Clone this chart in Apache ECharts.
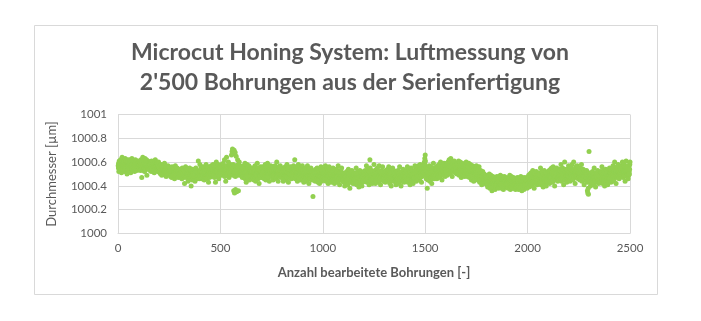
<!DOCTYPE html>
<html>
<head>
<meta charset="utf-8">
<script src="https://cdn.jsdelivr.net/npm/echarts@6/dist/echarts.min.js"></script>
<style>
html,body{margin:0;padding:0;background:#fff;}
#chart{width:701px;height:321px;}
</style>
</head>
<body>
<div id="chart"></div>
<script>
// Title and axis texts
const titleText = "Microcut Honing System: Luftmessung von\n2'500 Bohrungen aus der Serienfertigung";
const xAxisTitle = "Anzahl bearbeitete Bohrungen [-]";
const yAxisTitle = "Durchmesser [µm]";
const xTicks = [0, 500, 1000, 1500, 2000, 2500];
const yTicks = [1000, 1000.2, 1000.4, 1000.6, 1000.8, 1001];
const baseDiameter = 1000; // µm
// Measured diameters: hundredths of a µm above 1000 µm, bores 1-500, 501-1000, ...
const seg1 = [
57,55,59,52,58,61,56,54,60,57,53,59,62,56,58,55,51,57,60,64,58,54,56,59,57,53,61,58,55,57,60,52,56,59,63,57,54,58,56,61,55,59,57,50,58,62,56,54,60,57,
58,56,53,60,57,55,62,58,54,57,59,51,56,60,58,55,57,63,54,58,56,61,57,53,59,56,58,55,60,57,52,58,56,59,62,55,57,54,60,56,58,53,57,61,55,59,56,58,54,57,
56,59,54,58,61,57,55,60,53,58,56,62,57,54,59,47,57,60,55,58,64,56,53,58,57,61,55,59,56,52,58,63,57,55,60,54,58,56,62,57,49,59,56,58,55,61,57,54,59,56,
55,58,54,57,60,56,53,58,55,59,57,52,56,61,55,58,54,57,59,56,53,57,60,55,58,56,51,57,59,54,56,62,55,57,53,58,56,60,54,57,55,59,52,56,58,55,57,60,54,56,
54,52,56,51,55,53,57,50,54,52,58,53,55,49,54,56,52,53,57,51,55,54,50,56,53,52,59,54,51,55,53,57,52,54,48,55,53,56,51,54,52,55,53,57,50,54,53,51,56,52,
50,53,49,52,55,51,48,53,50,54,52,47,51,56,50,52,49,53,51,55,48,52,50,54,51,46,53,50,52,57,49,51,54,50,52,48,53,51,55,49,52,50,53,47,51,54,50,52,49,51,
49,52,48,51,54,50,47,52,49,53,51,46,50,55,49,51,48,52,50,54,47,51,49,53,42,50,52,48,51,56,49,50,53,47,51,49,52,50,54,48,51,44,50,53,49,51,47,52,50,55,
48,51,47,50,53,49,40,51,48,52,50,45,49,54,48,50,47,51,49,53,46,50,48,52,49,44,51,47,50,55,48,49,52,46,50,48,51,49,53,47,50,61,49,52,48,50,46,51,49,58,
49,52,48,51,55,50,46,52,49,54,51,47,50,56,49,52,48,53,50,55,45,51,49,53,50,47,52,48,51,58,49,50,54,46,51,49,52,50,56,48,51,43,50,53,49,52,47,51,50,54,
51,54,50,53,57,52,48,54,51,56,53,49,52,58,51,54,50,55,52,57,47,53,51,55,52,43,54,50,53,60,51,52,56,48,53,51,54,52,58,50,53,46,52,55,51,54,49,53,52,56
];
const seg2 = [
52,55,51,54,58,53,49,55,52,57,54,50,53,59,52,55,51,56,53,62,48,54,52,56,53,44,55,51,54,64,52,53,57,49,54,52,55,53,60,51,54,47,53,56,52,55,50,54,53,58,
54,57,52,66,55,50,69,56,71,53,49,67,58,52,36,55,70,51,34,57,53,68,48,37,56,52,65,54,35,50,57,53,49,62,55,51,58,36,53,56,50,60,54,52,57,49,55,53,51,56,
50,53,49,52,56,51,47,53,50,55,52,48,51,57,50,53,49,54,51,59,46,52,50,54,51,43,53,49,52,58,50,51,55,47,52,50,53,51,57,49,52,45,51,54,50,53,48,52,51,55,
51,48,53,50,46,52,55,49,51,47,54,50,52,45,49,53,51,48,57,50,52,44,51,49,54,50,47,53,51,59,48,50,52,46,55,49,51,53,42,50,52,48,54,51,49,56,50,47,52,50,
52,49,54,51,47,53,56,50,52,48,55,51,53,46,50,54,52,49,58,51,53,45,52,50,55,51,48,54,52,59,49,51,53,47,56,50,52,54,44,51,53,49,55,52,50,57,51,48,53,51,
50,53,48,52,56,51,45,54,50,52,49,55,51,47,53,50,57,52,49,54,51,46,53,50,60,52,48,51,55,50,53,44,52,49,54,51,56,50,48,53,51,57,49,52,50,54,47,51,53,50,
49,52,47,51,55,50,44,53,49,51,48,54,50,46,52,49,56,51,48,53,50,45,52,49,58,51,47,50,54,49,52,43,51,48,53,50,55,49,47,52,50,56,48,51,49,53,46,50,52,49,
52,49,54,50,47,53,57,51,49,55,52,48,62,50,53,46,51,54,49,52,56,50,48,53,51,44,55,50,52,49,58,51,47,54,50,52,49,56,51,53,45,50,52,48,55,51,49,53,50,57,
48,51,46,50,53,49,43,52,48,50,47,54,49,45,51,48,55,50,47,52,49,44,51,48,57,50,46,49,53,48,51,42,50,47,52,49,54,48,46,51,49,55,47,50,48,52,45,49,51,48,
49,31,47,50,45,51,48,53,46,49,52,47,44,50,48,54,47,49,45,51,48,55,46,50,47,52,43,49,48,51,46,53,49,42,50,47,52,48,45,50,56,47,49,44,51,48,53,46,49,50
];
const seg3 = [
50,47,52,48,45,51,54,49,47,53,50,46,57,48,51,44,49,52,47,50,55,48,46,51,49,42,53,48,50,47,56,49,45,52,48,50,47,54,49,51,43,48,50,46,53,49,47,51,48,55,
47,50,45,49,52,48,42,51,47,49,46,53,48,44,50,47,54,49,46,51,48,43,50,47,57,49,45,48,52,47,50,41,49,46,51,48,53,47,45,50,48,55,46,49,47,51,44,48,50,47,
45,48,43,47,50,46,40,49,45,47,44,51,46,42,48,45,52,47,44,49,46,41,48,45,54,47,43,46,50,45,48,38,47,44,49,46,51,45,43,48,46,53,44,47,45,49,42,46,48,45,
47,44,49,45,42,48,51,46,44,50,47,43,55,45,48,41,46,49,44,47,52,45,43,48,46,39,50,45,47,44,53,46,42,49,45,47,44,51,46,48,40,45,47,43,50,46,44,48,45,52,
49,46,51,47,44,50,53,48,46,52,49,45,57,47,50,43,48,51,46,49,54,47,45,50,48,41,52,47,49,62,55,48,44,51,47,49,46,53,48,50,42,47,49,45,52,48,46,50,47,58,
48,51,46,50,53,48,42,52,47,49,46,54,48,44,50,47,55,49,46,51,48,43,50,47,57,49,45,48,52,47,50,41,49,46,51,48,53,47,45,50,48,56,46,49,47,51,44,48,50,47,
47,50,45,49,43,51,48,53,46,49,52,47,44,50,48,54,46,49,45,51,47,56,46,50,47,52,42,49,48,51,46,53,49,40,50,47,52,48,45,50,55,47,49,44,51,48,53,46,49,50,
46,49,44,48,51,47,41,50,46,48,45,52,47,43,49,46,53,48,45,50,47,42,49,46,56,48,44,47,51,46,49,40,48,45,50,47,52,46,44,49,47,54,45,48,46,50,43,47,49,46,
49,46,51,47,44,50,53,48,46,52,49,45,56,47,50,43,48,51,46,49,54,47,45,50,48,41,52,47,49,46,55,48,44,51,47,49,46,53,48,50,42,47,49,45,52,48,46,50,47,57,
50,53,48,52,55,50,44,54,49,51,48,56,50,46,52,49,57,51,48,53,50,45,52,49,58,51,47,50,54,49,52,43,51,48,53,50,55,52,54,57,51,56,53,59,55,60,57,63,58,66
];
const seg4 = [
61,55,49,52,46,51,54,50,47,38,53,49,51,45,55,50,48,52,46,57,49,51,44,50,53,48,56,49,52,47,50,42,51,54,48,50,46,53,49,59,51,47,52,49,55,50,46,52,48,53,
51,54,49,53,56,52,46,55,51,53,50,57,52,48,54,51,58,53,50,55,52,47,54,51,60,53,49,52,56,51,54,45,53,50,55,52,57,51,49,54,52,59,50,53,51,55,48,52,54,51,
54,57,52,56,59,55,49,58,54,56,53,60,55,51,57,54,62,56,53,58,55,50,57,54,63,56,52,55,59,54,57,48,56,53,58,55,60,54,52,57,55,61,53,56,54,58,51,55,57,54,
55,52,57,53,50,56,59,54,52,58,55,51,61,53,56,49,54,57,52,55,60,53,51,56,54,47,58,53,55,52,59,54,50,57,53,55,52,58,54,56,48,53,55,51,58,54,52,56,53,60,
53,50,55,51,48,54,57,52,50,56,53,49,59,51,54,47,52,55,50,53,58,51,49,54,52,45,56,51,53,50,57,52,48,55,51,53,44,56,52,54,46,51,53,49,56,52,50,54,51,57,
50,47,52,48,45,51,54,49,47,53,49,45,56,47,50,43,48,51,46,49,53,47,45,50,48,41,51,46,48,45,52,47,43,49,45,47,44,50,46,48,42,46,47,44,49,45,43,47,44,48,
44,41,46,42,39,45,48,43,41,47,44,40,50,42,45,38,43,46,41,44,49,42,40,45,43,36,47,42,44,41,48,43,39,46,42,44,41,47,43,45,37,42,44,40,46,43,41,45,42,48,
42,45,40,44,47,43,38,46,42,44,41,48,43,39,45,42,49,44,41,46,43,38,45,42,48,44,40,43,47,42,45,37,44,41,46,43,48,42,40,45,43,47,41,44,42,46,39,43,45,42,
43,40,45,41,38,44,47,42,40,46,43,39,49,41,44,37,42,45,40,43,48,41,39,44,42,38,46,41,43,40,47,42,38,45,41,43,40,46,42,44,37,41,43,39,45,42,40,44,41,47,
41,44,39,43,46,42,37,45,41,43,40,47,42,38,44,41,48,43,40,45,42,36,44,41,47,43,39,42,46,41,44,37,43,40,45,42,47,41,39,44,42,46,40,43,41,45,38,42,44,41
];
const seg5 = [
44,47,42,46,49,45,39,48,44,46,43,50,45,41,47,44,51,46,43,48,45,40,47,44,53,46,42,45,49,44,47,38,46,43,48,45,50,44,42,47,45,52,43,46,44,48,41,45,47,44,
47,44,49,45,42,48,51,46,44,50,47,43,55,45,48,41,46,49,44,47,52,45,43,48,46,39,50,45,47,44,53,46,42,49,45,47,44,51,46,48,40,45,47,43,50,46,44,48,45,52,
48,51,46,50,53,48,42,52,47,49,46,54,48,44,50,47,55,49,46,51,48,43,50,47,56,49,45,48,52,47,50,40,49,46,51,48,53,47,45,50,48,55,46,49,47,51,44,48,50,47,
50,47,52,48,45,51,54,49,47,53,50,46,58,48,51,44,49,52,47,50,55,48,46,51,49,41,53,48,50,47,60,49,45,52,48,50,47,54,49,51,43,48,50,46,53,49,47,51,48,57,
50,53,48,52,55,50,44,54,49,51,48,56,50,46,52,49,58,51,48,53,50,45,52,49,60,51,47,50,54,49,52,42,51,48,53,50,56,49,47,52,50,57,48,51,49,53,46,50,52,49,
50,47,52,48,45,51,55,49,47,53,50,46,58,48,51,44,49,52,47,50,54,48,46,51,49,41,53,48,50,45,52,49,45,51,48,50,47,53,49,51,43,36,50,34,46,38,33,51,48,69,
45,48,43,47,50,46,40,49,45,47,44,51,46,42,48,45,52,47,44,49,46,41,48,45,55,47,43,46,50,45,48,39,47,44,49,46,51,45,43,48,46,53,44,47,45,49,42,46,48,45,
48,45,50,46,43,49,52,47,45,51,48,44,56,46,49,42,47,50,45,48,53,46,44,49,47,40,51,46,48,45,54,47,43,50,46,48,45,52,47,49,41,46,48,44,51,47,45,49,46,55,
49,52,47,51,54,50,43,53,49,51,48,55,50,45,52,49,57,51,48,53,50,44,52,49,60,51,47,50,54,49,52,42,51,48,53,50,56,49,47,52,50,58,48,51,49,53,46,50,52,49,
53,50,55,51,48,54,57,52,50,56,53,49,60,51,54,47,52,55,50,53,58,51,49,54,52,44,56,51,53,50,61,52,48,55,51,53,50,57,52,54,46,51,53,49,56,52,50,54,58,60
];
const segments = [seg1, seg2, seg3, seg4, seg5];
const segmentSize = 500;

const points = [];
segments.forEach((seg, k) => {
  seg.forEach((v, i) => {
    points.push([k * segmentSize + i + 1, baseDiameter + v / 100]);
  });
});

const FONT = 'Lato';
const GRAY = '#595959';
const GRID = '#d9d9d9';

const chart = echarts.init(document.getElementById('chart'), null, {renderer: 'canvas'});
chart.setOption({
  animation: false,
  backgroundColor: '#ffffff',
  graphic: [{
    type: 'rect',
    shape: {x: 34.5, y: 25.5, width: 623, height: 269},
    style: {fill: 'none', stroke: GRID, lineWidth: 1},
    silent: true
  }],
  title: {
    text: titleText,
    left: 345,
    textAlign: 'center',
    top: 33,
    textStyle: {fontFamily: FONT, fontWeight: 'bold', fontSize: 23, color: GRAY, lineHeight: 30}
  },
  grid: {left: 118, right: 71, top: 114.5, bottom: 87.5, containLabel: false},
  xAxis: {
    type: 'value',
    min: xTicks[0], max: xTicks[xTicks.length - 1], interval: 500,
    name: xAxisTitle, nameLocation: 'middle', nameGap: 33,
    nameTextStyle: {fontFamily: FONT, fontWeight: 'bold', fontSize: 13, color: GRAY},
    axisLine: {show: true, lineStyle: {color: GRID, width: 1}},
    axisTick: {show: false},
    axisLabel: {fontFamily: FONT, fontSize: 11.5, color: GRAY, margin: 9,
      formatter: v => String(Math.round(v))},
    splitLine: {show: true, lineStyle: {color: GRID, width: 1}}
  },
  yAxis: {
    type: 'value',
    min: yTicks[0], max: yTicks[yTicks.length - 1], interval: 0.2,
    name: yAxisTitle, nameLocation: 'middle', nameGap: 60, nameRotate: 90,
    nameTextStyle: {fontFamily: FONT, fontSize: 13, color: GRAY},
    axisLine: {show: false},
    axisTick: {show: false},
    axisLabel: {fontFamily: FONT, fontSize: 11.5, color: GRAY, margin: 11,
      formatter: v => String(Math.round(v * 10) / 10)},
    splitLine: {show: true, lineStyle: {color: GRID, width: 1}}
  },
  series: [{
    type: 'scatter',
    data: points,
    symbol: 'circle',
    symbolSize: 5,
    itemStyle: {color: '#92d050', opacity: 1},
    large: false
  }]
});
</script>
</body>
</html>
